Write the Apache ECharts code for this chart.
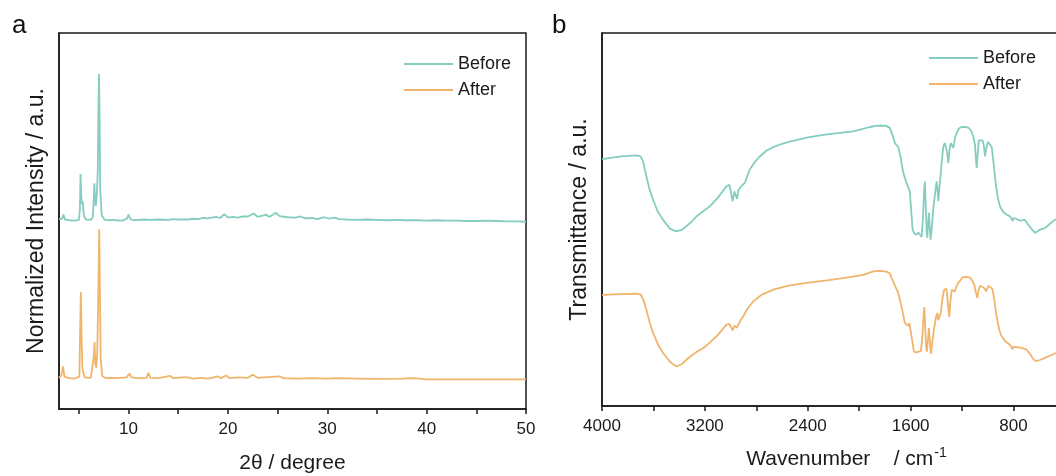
<!DOCTYPE html>
<html>
<head>
<meta charset="utf-8">
<script src="https://cdn.jsdelivr.net/npm/echarts@6/dist/echarts.min.js"></script>
<style>
html,body{margin:0;padding:0;background:#fff;}
#c{width:1056px;height:476px;}
</style>
</head>
<body>
<div id="c"></div>
<script>
// ---- Panel a: XRD (2θ in degree, normalized intensity with vertical offset) ----
const xrdBeforeX = [3.0,3.3,3.45,3.6,4.0,4.6,5.0,5.1,5.17,5.25,5.32,5.4,5.5,5.7,6.2,6.4,6.5,6.56,6.62,6.7,6.8,6.9,6.97,7.03,7.09,7.15,7.3,7.6,8.2,8.45,8.55,8.7,9.4,9.85,10.0,10.15,10.5,11.0,11.6,11.8,12.0,13.0,14.0,14.5,15.0,16.0,16.5,17.0,17.5,18.0,18.8,19.2,19.65,20.0,20.5,21.0,21.5,22.0,22.6,23.0,23.5,23.8,24.2,24.8,25.2,26.0,26.8,27.3,27.8,28.5,29.0,29.7,30.2,30.7,31.2,32.0,33.0,34.0,35.0,36.0,37.0,38.0,39.0,40.0,41.0,42.0,43.0,44.0,45.0,46.0,47.0,48.0,49.0,50.0];
const xrdBeforeY = [50.4,50.6,51.7,50.4,50.2,50.1,50.3,53.0,62.5,56.0,54.5,55.1,51.5,50.4,50.3,51.0,56.0,60.0,56.0,54.0,57.0,63.0,80.0,89.1,75.0,58.0,51.5,50.3,50.2,50.3,50.8,50.2,50.1,50.7,51.7,50.6,50.2,50.3,50.4,50.9,50.3,50.4,50.3,50.5,50.4,50.4,50.6,50.5,50.8,50.7,51.1,50.8,51.8,50.9,51.1,50.9,51.2,51.2,52.0,51.1,51.4,51.7,51.1,52.2,51.3,51.0,50.9,51.2,50.7,50.8,50.5,51.0,50.6,50.9,50.5,50.4,50.3,50.4,50.3,50.2,50.3,50.2,50.2,50.1,50.2,50.1,50.1,50.0,50.0,50.1,50.0,49.9,49.9,49.8];
const xrdAfterX = [3.0,3.25,3.4,3.55,4.0,4.6,5.05,5.12,5.2,5.28,5.35,5.45,5.6,6.2,6.4,6.5,6.58,6.65,6.75,6.85,6.95,7.05,7.12,7.2,7.35,7.7,8.5,8.6,8.8,9.8,10.1,10.3,11.0,11.8,12.0,12.2,13.0,14.2,14.5,15.8,16.5,17.3,18.0,19.0,19.3,19.8,20.2,21.0,22.0,22.5,23.0,24.0,25.2,25.6,27.0,28.5,30.0,31.0,33.0,35.0,37.5,38.7,40.0,45.0,50.0];
const xrdAfterY = [8.3,9.0,11.3,8.6,8.2,8.1,8.6,20.0,31.1,18.0,11.0,9.5,8.4,8.3,8.8,14.0,17.8,12.0,11.0,15.0,30.0,47.8,30.0,13.0,8.8,8.2,8.3,8.6,8.2,8.4,9.4,8.4,8.2,8.3,9.6,8.3,8.2,8.8,8.2,8.5,8.1,8.3,8.1,8.7,8.2,8.9,8.2,8.4,8.3,9.1,8.3,8.5,8.7,8.2,8.1,8.2,8.1,8.2,8.1,8.0,8.1,8.2,7.9,7.9,7.9];
const xrdTicks = [5,10,15,20,25,30,35,40,45,50];
const xrdLabels = [10,20,30,40,50];

// ---- Panel b: FTIR (wavenumber in cm-1, transmittance with vertical offset) ----
const irBeforeWn = [4000,3850,3733,3700,3680,3655,3630,3603,3565,3525,3470,3422,3380,3344,3300,3266,3214,3162,3100,3032,3010,2998,2985,2970,2960,2950,2940,2925,2890,2851,2810,2773,2720,2669,2600,2540,2400,2280,2150,2047,1980,1917,1870,1826,1790,1761,1740,1723,1710,1697,1680,1660,1640,1620,1606,1595,1585,1570,1554,1540,1528,1515,1505,1495,1490,1484,1476,1471,1464,1458,1452,1445,1435,1424,1410,1398,1390,1385,1378,1372,1360,1346,1335,1325,1316,1307,1298,1289,1278,1268,1255,1242,1225,1204,1180,1151,1130,1113,1100,1092,1087,1080,1070,1060,1040,1030,1022,1013,1000,985,970,955,936,920,905,880,853,827,815,806,800,780,750,711,690,660,633,600,555,520,479,420];
const irBeforeT = [66.2,66.9,67.2,66.9,65.5,61.6,58.0,55.3,52.0,49.9,47.5,46.8,47.2,48.2,49.5,50.8,52.2,53.5,55.8,58.9,59.3,57.5,54.9,57.5,58.0,55.5,57.8,58.6,59.8,63.4,65.5,66.9,68.5,69.4,70.3,70.9,72.0,72.7,73.2,73.6,74.2,74.8,75.1,75.2,75.1,74.5,72.5,70.5,70.2,69.5,67.0,63.0,60.5,58.8,57.4,52.0,47.3,46.2,45.9,46.5,46.0,45.3,50.0,58.0,60.2,55.0,47.0,45.1,49.0,51.8,48.0,44.6,48.0,53.0,57.0,60.2,57.5,54.9,58.0,60.2,65.0,69.6,70.5,70.5,68.0,65.1,68.5,70.5,70.3,69.2,72.0,73.2,74.4,74.8,74.8,74.6,73.8,72.3,70.0,66.0,63.8,67.0,71.2,71.4,71.2,69.5,66.9,69.0,70.8,70.5,69.5,65.0,58.9,55.5,53.5,52.0,51.3,50.8,50.6,49.6,50.4,50.2,49.7,49.9,48.8,47.5,46.4,47.2,47.7,48.8,49.9,50.8];
const irAfterWn = [4000,3850,3733,3700,3680,3655,3630,3603,3565,3525,3470,3422,3380,3344,3300,3260,3214,3162,3100,3032,3010,2998,2985,2970,2960,2950,2940,2925,2903,2870,2825,2760,2669,2550,2410,2250,2047,1960,1891,1840,1787,1760,1748,1725,1697,1670,1645,1630,1619,1610,1601,1590,1575,1555,1541,1520,1508,1500,1494,1488,1480,1474,1466,1458,1451,1443,1432,1419,1405,1393,1386,1380,1372,1365,1352,1339,1321,1312,1300,1290,1280,1268,1257,1245,1230,1196,1170,1139,1120,1105,1095,1082,1072,1061,1045,1035,1025,1014,1004,994,980,965,950,932,912,893,860,828,815,807,800,789,760,730,698,670,645,625,590,555,510,468,420];
const irAfterT = [29.8,30.0,30.1,29.9,28.6,25.8,22.5,19.6,16.5,14.2,11.8,10.6,11.2,12.4,13.6,14.6,15.5,17.0,19.0,21.8,22.0,21.3,20.3,21.5,22.0,21.0,21.8,22.8,24.0,26.0,28.0,29.8,31.2,32.3,33.0,33.7,34.7,35.2,36.1,36.2,36.0,35.5,34.3,32.5,30.3,26.5,22.3,21.8,21.5,22.2,21.9,18.0,14.6,14.4,14.5,14.8,19.0,24.0,26.5,22.0,16.0,14.6,17.5,20.9,17.5,14.0,17.0,20.5,23.5,24.9,23.0,22.5,24.3,25.2,29.0,31.2,31.4,28.0,23.9,28.5,31.2,31.0,30.6,32.0,33.0,34.5,34.6,34.4,33.6,32.5,30.8,29.0,31.0,32.2,32.0,31.8,31.5,30.7,31.6,32.2,32.0,31.4,28.5,24.0,20.5,18.7,17.2,16.4,16.1,15.2,15.9,16.0,15.7,15.5,15.1,13.8,12.5,12.0,12.4,12.9,13.6,14.2,14.8];
const irTicks = [4000,3600,3200,2800,2400,2000,1600,1200,800,400];
const irLabels = [4000,3200,2400,1600,800];

const seriesNames = ['Before','After'];
const colors = ['#84CDBF','#F0B46A'];

const zip = (a,b) => a.map((v,i) => [v,b[i]]);
const FONT = 'Arial, "Liberation Sans", sans-serif';
const INK = '#1a1a1a';

const chart = echarts.init(document.getElementById('c'), null, {renderer:'canvas'});

const baseX = {
  type:'value',
  axisLine:{show:true, onZero:false, lineStyle:{color:INK, width:1.5}},
  axisTick:{show:true, inside:false, length:5, lineStyle:{color:INK, width:1.5}},
  axisLabel:{color:INK, fontSize:17, fontFamily:FONT, margin:12, formatter:(v)=>String(v)},
  splitLine:{show:false},
  nameLocation:'middle',
  nameTextStyle:{color:INK, fontSize:21, fontFamily:FONT}
};
const baseY = {
  type:'value', min:0, max:100,
  axisLine:{show:true, onZero:false, lineStyle:{color:INK, width:1.5}},
  axisTick:{show:false}, axisLabel:{show:false}, splitLine:{show:false},
  nameLocation:'middle', nameGap:11,
  nameTextStyle:{color:INK, fontSize:23, fontFamily:FONT}
};

const legendBase = {
  data:seriesNames.map(n=>({name:n})), orient:'vertical', itemWidth:49, itemHeight:2, itemGap:6,
  icon:'rect', textStyle:{fontSize:18, fontFamily:FONT, color:INK, lineHeight:20}, selectedMode:false
};

const option = {
  backgroundColor:'#ffffff',
  animation:false,
  grid:[
    {left:59, top:33, width:467, height:376, show:true, borderColor:INK, borderWidth:1.5, containLabel:false, outerBoundsMode:'none'},
    {left:602, top:33, width:463, height:373, show:true, borderColor:INK, borderWidth:1.5, containLabel:false, outerBoundsMode:'none'}
  ],
  xAxis:[
    Object.assign({}, baseX, {gridIndex:0, min:3, max:50, name:'2θ / degree', nameGap:44,
      axisTick:Object.assign({}, baseX.axisTick, {customValues:xrdTicks}),
      axisLabel:Object.assign({}, baseX.axisLabel, {customValues:xrdLabels})}),
    Object.assign({}, baseX, {gridIndex:1, min:400, max:4000, inverse:true, nameGap:40,
      name:'{a|Wavenumber    / cm}{s|-1}',
      nameTextStyle:{color:INK, fontFamily:FONT, fontSize:21, padding:[0,0,0,26],
        rich:{a:{fontSize:21, fontFamily:FONT, color:INK}, s:{fontSize:14, fontFamily:FONT, color:INK, padding:[0,0,12,1]}}},
      axisTick:Object.assign({}, baseX.axisTick, {customValues:irTicks}),
      axisLabel:Object.assign({}, baseX.axisLabel, {customValues:irLabels})})
  ],
  yAxis:[
    Object.assign({}, baseY, {gridIndex:0, name:'Normalized Intensity / a.u.'}),
    Object.assign({}, baseY, {gridIndex:1, name:'Transmittance / a.u.'})
  ],
  legend:[
    Object.assign({}, legendBase, {left:399, top:49}),
    Object.assign({}, legendBase, {left:924, top:43})
  ],
  graphic:[
    {type:'text', left:12, top:13, style:{text:'a', fontSize:26, fontFamily:FONT, fill:'#111'}},
    {type:'text', left:552, top:13, style:{text:'b', fontSize:26, fontFamily:FONT, fill:'#111'}}
  ],
  series:[
    {name:'Before', type:'line', xAxisIndex:0, yAxisIndex:0, data:zip(xrdBeforeX, xrdBeforeY), showSymbol:false, symbol:'none', lineStyle:{color:colors[0], width:1.8}, itemStyle:{color:colors[0]}},
    {name:'After', type:'line', xAxisIndex:0, yAxisIndex:0, data:zip(xrdAfterX, xrdAfterY), showSymbol:false, symbol:'none', lineStyle:{color:colors[1], width:1.8}, itemStyle:{color:colors[1]}},
    {name:'Before', type:'line', xAxisIndex:1, yAxisIndex:1, data:zip(irBeforeWn, irBeforeT), showSymbol:false, symbol:'none', lineStyle:{color:colors[0], width:1.8}, itemStyle:{color:colors[0]}},
    {name:'After', type:'line', xAxisIndex:1, yAxisIndex:1, data:zip(irAfterWn, irAfterT), showSymbol:false, symbol:'none', lineStyle:{color:colors[1], width:1.8}, itemStyle:{color:colors[1]}}
  ]
};
chart.setOption(option);
</script>
</body>
</html>
